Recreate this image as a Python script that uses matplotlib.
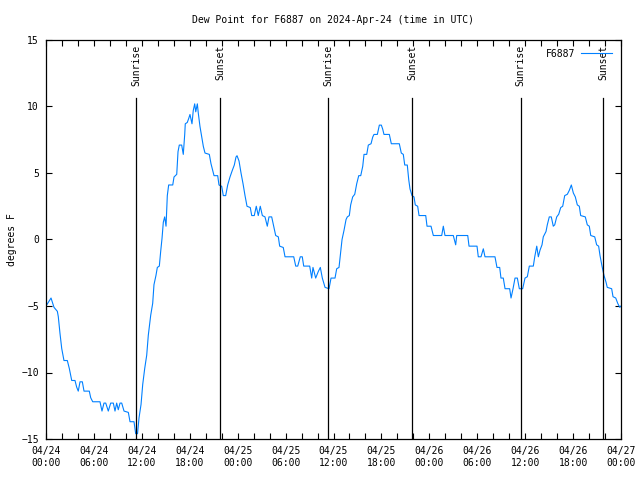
import numpy as np
import matplotlib
matplotlib.use("Agg")
import matplotlib.pyplot as plt

# hours after 04/24 00:00 UTC, dew point in F
hours = [0.0, 0.63, 1.0, 1.42, 1.54, 1.75, 1.97, 2.25, 2.67, 2.92, 3.22, 3.63, 3.84, 4.04,
         4.26, 4.55, 4.76, 5.42, 5.6, 5.85, 6.76, 7.01, 7.26, 7.48, 7.8, 8.1, 8.43, 8.64,
         8.85, 9.05, 9.27, 9.48, 9.77, 10.31, 10.52, 11.02, 11.23, 11.46, 11.65, 11.9,
         12.11, 12.36, 12.61, 12.81, 13.11, 13.36, 13.52, 13.77, 13.94, 14.19, 14.36,
         14.53, 14.69, 14.86, 15.03, 15.19, 15.36, 15.87, 16.03, 16.37, 16.44, 16.53,
         16.69, 16.99, 17.19, 17.37, 17.44, 17.69, 17.87, 18.03, 18.28, 18.44, 18.62,
         18.75, 18.95, 19.07, 19.28, 19.5, 19.7, 19.91, 20.45, 20.66, 20.87, 21.04, 21.5,
         21.66, 22.0, 22.2, 22.5, 22.75, 23.04, 23.33, 23.58, 23.79, 23.92, 24.17, 24.42,
         24.67, 24.92, 25.17, 25.58, 25.76, 26.08, 26.33, 26.58, 26.83, 27.09, 27.42,
         27.71, 27.92, 28.26, 28.51, 28.76, 29.09, 29.26, 29.71, 29.93, 31.02, 31.27,
         31.52, 31.84, 32.09, 32.27, 33.02, 33.27, 33.43, 33.77, 34.1, 34.35, 34.6, 34.94,
         35.44, 35.69, 36.19, 36.4, 36.69, 36.9, 37.07, 37.32, 37.57, 37.73, 37.98, 38.15,
         38.4, 38.66, 38.91, 39.16, 39.41, 39.66, 39.82, 40.16, 40.36, 40.7, 40.91, 41.07,
         41.49, 41.74, 41.99, 42.16, 42.32, 42.99, 43.24, 44.24, 44.49, 44.74, 44.92,
         45.24, 45.42, 45.58, 45.83, 46.08, 46.24, 46.54, 46.71, 47.55, 47.71, 48.21,
         48.5, 49.55, 49.75, 49.96, 51.0, 51.22, 51.3, 51.43, 52.81, 52.97, 53.97, 54.13,
         54.47, 54.76, 54.97, 56.22, 56.47, 56.81, 56.97, 57.26, 57.48, 58.06, 58.23,
         58.48, 58.73, 59.02, 59.27, 59.69, 59.98, 60.27, 60.52, 61.02, 61.2, 61.45,
         61.65, 61.86, 62.11, 62.27, 62.61, 62.77, 63.02, 63.27, 63.52, 63.7, 63.95,
         64.2, 64.45, 64.7, 64.95, 65.28, 65.53, 65.78, 66.03, 66.28, 66.53, 66.78,
         66.95, 67.53, 67.78, 68.03, 68.21, 68.71, 68.95, 69.2, 69.37, 69.62, 69.87,
         70.12, 70.28, 70.83, 71.0, 71.34, 71.59, 71.84, 72.0]
dewpt = [-5.0, -4.4, -5.1, -5.4, -5.8, -7.05, -8.2, -9.1, -9.1, -9.7, -10.6, -10.6, -11.1, -11.4,
         -10.7, -10.7, -11.4, -11.4, -11.9, -12.2, -12.2, -12.9, -12.3, -12.3, -12.9, -12.3, -12.3, -12.9,
         -12.3, -12.8, -12.3, -12.3, -12.9, -13.0, -13.7, -13.7, -14.6, -14.6, -13.4, -12.4,
         -10.9, -9.7, -8.7, -7.2, -5.7, -4.8, -3.4, -2.7, -2.1, -2.0, -0.9,
         0.1, 1.3, 1.7, 1.0, 3.3, 4.1, 4.1, 4.7, 4.9, 5.6, 6.6,
         7.1, 7.1, 6.4, 7.9, 8.7, 8.8, 9.1, 9.4, 8.7, 9.7, 10.2,
         9.6, 10.2, 9.5, 8.5, 7.7, 7.0, 6.5, 6.4, 5.7, 5.2, 4.8, 4.8,
         4.1, 4.0, 3.3, 3.3, 4.1, 4.7, 5.2, 5.6, 6.2, 6.3, 5.9, 5.0,
         4.2, 3.3, 2.5, 2.4, 1.8, 1.8, 2.5, 1.8, 2.5, 1.8, 1.7,
         1.0, 1.7, 1.7, 1.0, 0.3, 0.2, -0.5, -0.6, -1.3, -1.3, -2.0,
         -2.0, -1.3, -1.3, -2.0, -2.0, -2.9, -2.1, -2.9, -2.4, -2.1, -2.9, -3.6,
         -3.7, -2.9, -2.9, -2.2, -2.1, -0.9, 0.0, 0.7, 1.5, 1.7, 1.8, 2.6,
         3.2, 3.4, 4.2, 4.8, 4.8, 5.5, 6.4, 6.4, 7.1, 7.2, 7.7, 7.9,
         7.9, 8.6, 8.6, 8.3, 7.9, 7.9, 7.2, 7.2, 6.5, 6.4, 5.6,
         5.6, 4.5, 3.8, 3.3, 3.2, 2.6, 2.5, 1.8, 1.8, 1.0, 1.0,
         0.3, 0.3, 1.0, 0.3, 0.3, -0.2, -0.4, 0.3, 0.3, -0.5, -0.5, -1.3,
         -1.3, -0.7, -1.3, -1.3, -2.1, -2.1, -2.9, -2.9, -3.7, -3.7, -4.4,
         -3.7, -2.9, -2.9, -3.7, -3.7, -2.9, -2.8, -2.0, -2.0, -1.3, -0.5,
         -1.3, -0.8, -0.4, 0.2, 0.6, 1.1, 1.7, 1.7, 1.0, 1.1, 1.7,
         1.9, 2.4, 2.5, 3.3, 3.4, 3.7, 4.1, 3.5, 3.2, 2.6, 2.5,
         1.8, 1.7, 1.1, 1.0, 0.3, 0.2, -0.4, -0.5, -1.2, -2.0, -2.7,
         -3.2, -3.6, -3.7, -4.3, -4.4, -4.8, -5.1, -5.0]

sun_hours = [11.31, 21.83, 35.35, 45.87, 59.42, 69.79]
sun_labels = ["Sunrise", "Sunset", "Sunrise", "Sunset", "Sunrise", "Sunset"]

tick_hours = list(range(0, 73, 6))
tick_labels = ["04/24\n00:00", "04/24\n06:00", "04/24\n12:00", "04/24\n18:00",
               "04/25\n00:00", "04/25\n06:00", "04/25\n12:00", "04/25\n18:00",
               "04/26\n00:00", "04/26\n06:00", "04/26\n12:00", "04/26\n18:00",
               "04/27\n00:00"]

plt.rcParams['font.family'] = 'DejaVu Sans Mono'
plt.rcParams['font.size'] = 7

fig = plt.figure(figsize=(6.4, 4.8), dpi=100)
ax = fig.add_axes([46/640, 1 - 439/480, 575/640, 399/480])

ax.plot(hours, dewpt, color='#0080ff', lw=0.8, label='F6887')

for h, lab in zip(sun_hours, sun_labels):
    ax.axvline(h, ymin=0, ymax=0.855, color='black', lw=0.9)
    ax.text(h, 0.987, lab, transform=ax.get_xaxis_transform(), rotation=90,
            ha='center', va='top')

ax.set_xlim(0, 72)
ax.set_ylim(-15, 15)
ax.set_xticks(tick_hours)
ax.set_xticklabels(tick_labels)
ax.set_xticks(range(0, 73, 2), minor=True)
ax.set_yticks(range(-15, 16, 5))
ax.tick_params(which='both', direction='in', length=4, width=0.8,
               top=True, right=True, pad=5)
for s in ax.spines.values():
    s.set_linewidth(0.9)

ax.set_ylabel('degrees F', labelpad=3)
ax.set_title('Dew Point for F6887 on 2024-Apr-24 (time in UTC)', fontsize=7, pad=12)
ax.legend(loc='upper right', frameon=False, markerfirst=False, handlelength=3.2,
          borderaxespad=0.5, handletextpad=0.6)

fig.savefig('out.png', dpi=100)
